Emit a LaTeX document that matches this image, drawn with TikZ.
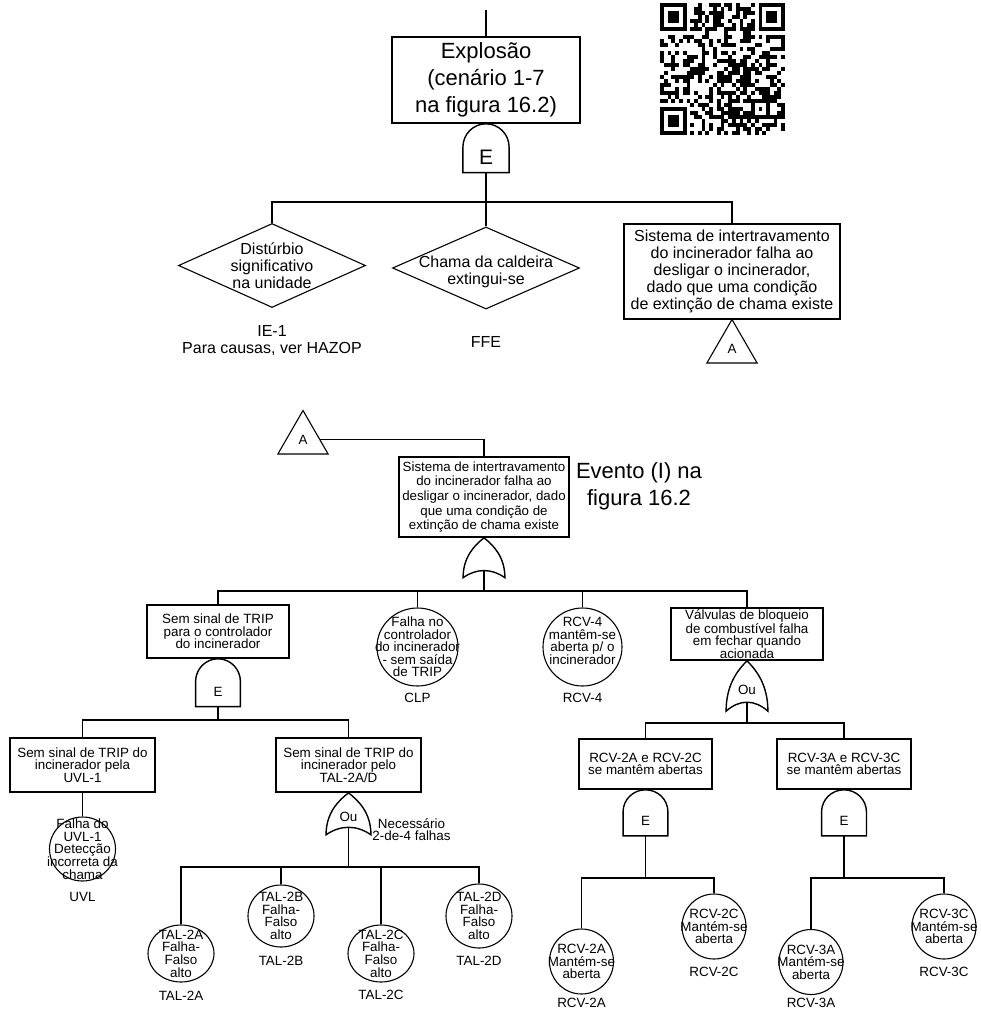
\documentclass[tikz,border=0pt]{standalone}
\usepackage{fontspec}
\setmainfont{Liberation Sans}
\usetikzlibrary{shapes.geometric}

\newcommand{\evfont}{\fontsize{13.4}{12.6}\selectfont}
\newcommand{\sisfont}{\fontsize{13.3}{14.6}\selectfont}
\newcommand{\topfont}{\fontsize{16}{17}\selectfont}
\newcommand{\explfont}{\fontsize{22}{27}\selectfont}

\tikzset{
  evbox/.style={draw, rectangle, line width=1.6pt, inner sep=0pt, align=center},
  basic/.style 2 args={draw, ellipse, line width=1.1pt, inner sep=0pt, minimum width=#1, minimum height=#2},
  undev/.style={draw, diamond, line width=1.1pt, inner sep=0pt},
  transfer/.style={draw, regular polygon, regular polygon sides=3, line width=1.1pt, inner sep=0pt, minimum size=58pt},
  evtext/.style={align=center, inner sep=0pt, font=\evfont},
  link/.style={line width=1.6pt},
  pics/andgate/.style={code={
    \draw[line width=1.4pt] (-22,-46) -- (-22,-22) arc[start angle=180, end angle=0, radius=22] -- (22,-46) -- cycle;
    \coordinate (-bot) at (0,-46);
    \node[inner sep=0pt] at (0,-31.5) {#1};
  }},
  pics/orgate/.style={code={
    \draw[line width=1.4pt] (0,0) .. controls (-10,-8) and (-22,-20) .. (-22,-42)
      .. controls (-8,-32) and (8,-32) .. (22,-42)
      .. controls (22,-20) and (10,-8) .. (0,0) -- cycle;
    \coordinate (-bot) at (0,-34.5);
    \node[inner sep=0pt] at (0,-24) {#1};
  }},
}

\begin{document}
\begin{tikzpicture}[x=1pt, y=1pt, font=\evfont]
\useasboundingbox (0,0) rectangle (981,-1012);

% arvore de cima
\coordinate (top0) at (486,-10);
\node[evbox, font=\explfont, minimum width=188pt, minimum height=86pt] (expl) at (486,-80) {Explosão\\(cenário 1-7\\na figura 16.2)};
\pic[xscale=1.05, yscale=1.06] (g0) at (expl.south) {andgate={\fontsize{21}{21}\selectfont E}};
\coordinate (bus0) at (486,-202);

\node[undev, minimum width=187pt, minimum height=84pt,
  label={[evtext, font=\topfont]center:Distúrbio\\significativo\\na unidade}] (ie1) at (272,-265.5) {};
\node[evtext, font=\topfont] (ie1id) at (272,-341) {IE-1\\Para causas, ver HAZOP};

\node[undev, minimum width=187pt, minimum height=82pt,
  label={[evtext, font=\topfont, yshift=-4pt]center:Chama da caldeira\\extingui-se}] (ffe) at (486,-268) {};
\node[evtext, font=\topfont] (ffeid) at (486,-342) {FFE};

\node[evbox, font=\topfont, minimum width=216pt, minimum height=95pt] (sis1) at (732,-271.5) {Sistema de intertravamento\\do incinerador falha ao\\desligar o incinerador,\\dado que uma condição\\de extinção de chama existe};
\node[transfer] (ta1) at (732,-348.5) {A};

\draw[link] (top0) -- (expl.north);
\draw[link] (g0-bot) -- (bus0) -- (ffe.north);
\draw[link] (ie1.north) |- (bus0) -| (sis1.north);

% codigo QR
\begin{scope}[shift={(660,-3)}, x=3.79pt, y=-4pt]
  \pgfmathsetseed{2718}
  \foreach \i in {0,...,32}{
    \foreach \j in {0,...,32}{
      \pgfmathtruncatemacro\qbit{2*rnd}
      \ifnum\qbit=1 \fill (\i,\j) rectangle ++(1,1); \fi
    }
  }
  \fill[white] (0,0) rectangle (8,8);
  \fill[white] (25,0) rectangle (33,8);
  \fill[white] (0,25) rectangle (8,33);
  \foreach \fx/\fy in {0/0,26/0,0/26}{
    \fill (\fx,\fy) rectangle ++(7,7);
    \fill[white] (\fx+1,\fy+1) rectangle ++(5,5);
    \fill (\fx+2,\fy+2) rectangle ++(3,3);
  }
  \fill (24,24) rectangle ++(5,5);
  \fill[white] (25,25) rectangle ++(3,3);
  \fill (26,26) rectangle ++(1,1);
\end{scope}

% arvore de baixo
\node[transfer] (ta2) at (303,-439.5) {A};
\node[evbox, font=\sisfont, minimum width=170pt, minimum height=80pt] (sis2) at (484,-497) {Sistema de intertravamento\\do incinerador falha ao\\desligar o incinerador, dado\\que uma condição de\\extinção de chama existe};
\node[font=\explfont, align=center] (ev) at (639,-486.5) {Evento (I) na\\figura 16.2};
\draw[link] (ta2.east) -| (sis2.north);
\pic[xscale=0.95, yscale=0.95] (g1) at (sis2.south) {orgate={}};
\coordinate (bus1) at (484,-591);
\draw[link] (g1-bot) -- (bus1);

\node[evbox, minimum width=142pt, minimum height=53pt] (notrip) at (218,-631.5) {Sem sinal de TRIP\\para o controlador\\do incinerador};
\node[basic={81pt}{78pt}, label={[evtext]center:Falha no\\controlador\\do incinerador\\- sem saída\\de TRIP}] (clp) at (417.5,-647) {};
\node[evtext] (clpid) at (417.5,-698) {CLP};
\node[basic={79pt}{78pt}, label={[evtext, yshift=6pt]center:RCV-4\\mantêm-se\\aberta p/ o\\incinerador}] (rcv4) at (582.5,-647) {};
\node[evtext] (rcv4id) at (582.5,-698) {RCV-4};
\node[evbox, minimum width=152pt, minimum height=52pt] (valv) at (747,-634) {Válvulas de bloqueio\\de combustível falha\\em fechar quando\\acionada};
\draw[link] (notrip.north) |- (bus1) -| (valv.north);
\foreach \n in {clp,rcv4} \draw[link] (\n.north) -- (\n.north |- bus1);

% ramo esquerdo
\pic[xscale=1.02, yscale=1.04] (g2) at (notrip.south) {andgate={E}};
\coordinate (bus2) at (218,-720);
\draw[link] (g2-bot) -- (bus2);
\node[evbox, minimum width=145pt, minimum height=54pt] (uvlbox) at (82.5,-765) {Sem sinal de TRIP do\\incinerador pela\\UVL-1};
\node[evbox, minimum width=145pt, minimum height=54pt] (talbox) at (348.5,-765) {Sem sinal de TRIP do\\incinerador pelo\\TAL-2A/D};
\draw[link] (uvlbox.north) |- (bus2) -| (talbox.north);
\node[basic={66pt}{64pt}, label={[evtext]center:Falha do\\UVL-1\\Detecção\\incorreta da\\chama}] (uvl) at (82.5,-849) {};
\node[evtext] (uvlid) at (82.5,-897) {UVL};
\draw[link] (uvlbox.south) -- (uvl.north);

\pic[xscale=1.02] (g3) at (talbox.south) {orgate={Ou}};
\node[evtext] (nec) at (411.5,-829.5) {Necessário\\2-de-4 falhas};
\coordinate (bus3) at (348.5,-867);
\draw[link] (g3-bot) -- (bus3);
\foreach \t/\x/\y/\h/\ly in {A/181/953.5/57/996, B/281/916/62/961, C/381/953.5/57/995, D/479/916/64/961}{
  \node[basic={66pt}{\h pt}, label={[evtext]center:TAL-2\t\\Falha-\\Falso\\alto}] (tal2\t) at (\x,-\y) {};
  \node[evtext] (tal2\t id) at (\x,-\ly) {TAL-2\t};
}
\draw[link] (tal2A.north) |- (bus3) -| (tal2D.north);
\foreach \t in {B,C} \draw[link] (tal2\t.north) -- (tal2\t.north |- bus3);

% ramo direito
\pic[xscale=0.95, yscale=1.2] (g4) at (valv.south) {orgate={Ou}};
\coordinate (bus4) at (747,-723);
\draw[link] (g4-bot) -- (bus4);
\node[evbox, minimum width=133pt, minimum height=50pt] (rcv2) at (645.5,-764) {RCV-2A e RCV-2C\\se mantêm abertas};
\node[evbox, minimum width=134pt, minimum height=50pt] (rcv3) at (844,-764) {RCV-3A e RCV-3C\\se mantêm abertas};
\draw[link] (rcv2.north) |- (bus4) -| (rcv3.north);
\pic[xscale=1.02] (g5) at (rcv2.south) {andgate={E}};
\pic[xscale=1.02] (g6) at (rcv3.south) {andgate={E}};
\coordinate (bus5) at (645.5,-878);
\coordinate (bus6) at (844,-878);
\draw[link] (g5-bot) -- (bus5);
\draw[link] (g6-bot) -- (bus6);
\foreach \v/\x/\y/\ly in {2A/581.5/961.5/1003, 2C/714/926.5/972, 3A/811/962/1003, 3C/944/926.5/972}{
  \node[basic={64pt}{65pt}, label={[evtext]center:RCV-\v\\Mantém-se\\aberta}] (rcv\v) at (\x,-\y) {};
  \node[evtext] (rcv\v id) at (\x,-\ly) {RCV-\v};
}
\draw[link] (rcv2A.north) |- (bus5) -| (rcv2C.north);
\draw[link] (rcv3A.north) |- (bus6) -| (rcv3C.north);
\end{tikzpicture}
\end{document}
